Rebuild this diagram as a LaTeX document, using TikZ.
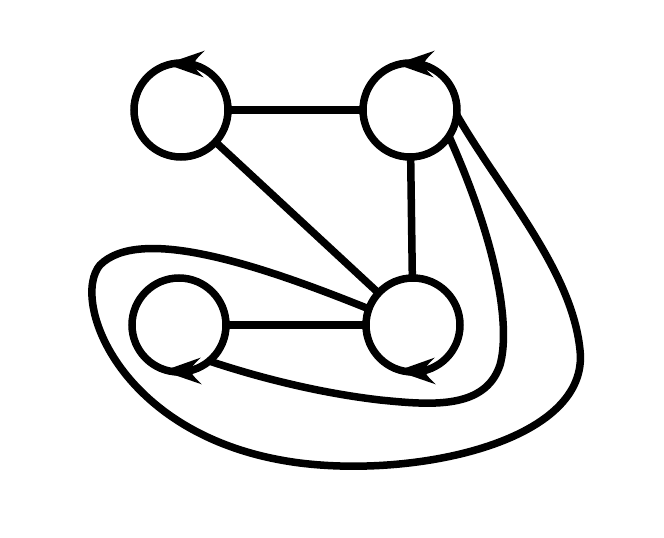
\documentclass[tikz,border=0pt]{standalone}
\usetikzlibrary{calc}
\begin{document}
\begin{tikzpicture}[x=1pt,y=-1pt,line width=7.5pt,
  vert/.style={circle,draw,minimum size=94pt,inner sep=0pt,outer sep=0pt},
  headfill/.style={fill=black,draw=black,line width=2pt,line join=miter}]
\useasboundingbox[fill=white] (0,0) rectangle (664,538);
\node[vert] (A) at (181,110) {};
\node[vert] (B) at (410,110) {};
\node[vert] (C) at (179,325) {};
\node[vert] (D) at (413,325) {};
\draw (A) -- (B);
\draw (A) -- (D);
\draw (B) -- (D);
\draw (C) -- (D);
% self-loop arrowheads
\coordinate (ta) at ($(A.north)+(-12,1)$);
\coordinate (tb) at ($(B.north)+(-11,1)$);
\coordinate (tc) at ($(C.south)+(-13,-1)$);
\coordinate (td) at ($(D.south)+(-13,-1)$);
\foreach \t/\s in {ta/1,tb/1,tc/-1,td/-1}{
  \begin{scope}[shift={(\t)}]
    \fill[headfill] (0,0) -- (32,{-11*\s}) .. controls (26,{-5*\s}) .. (23,{1*\s})
      .. controls (26,{6*\s}) .. (31,{11*\s}) -- cycle;
  \end{scope}
}
% big loop from D to B
\draw (D.160) .. controls (260,265) and (140,225) .. (100,265)
  .. controls (70,300) and (120,440) .. (300,463)
  .. controls (420,478) and (590,440) .. (580,350)
  .. controls (572,270) and (500,190) .. (B.354);
% curve from B to C
\draw (B.326) .. controls (500,250) and (510,330) .. (500,365)
  .. controls (485,410) and (430,405) .. (380,400)
  .. controls (320,393) and (260,378) .. (C.310);
\end{tikzpicture}
\end{document}
